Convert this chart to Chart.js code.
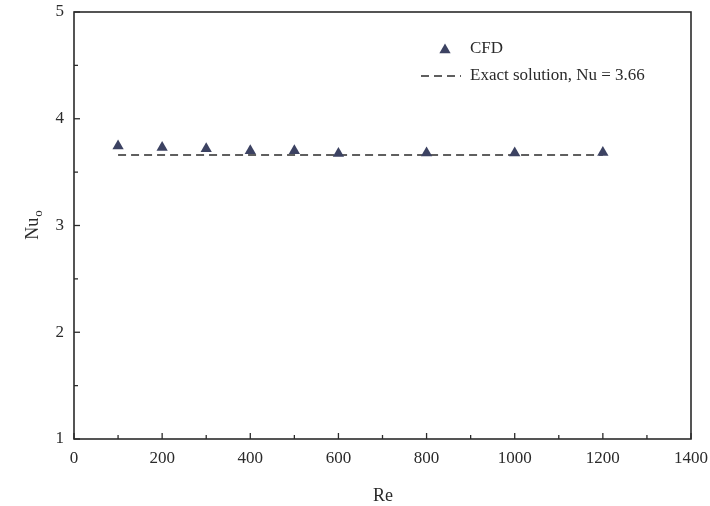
<!DOCTYPE html>
<html>
<head>
<meta charset="utf-8">
<script src="https://cdn.jsdelivr.net/npm/chart.js@4/dist/chart.umd.min.js"></script>
<style>
  html, body { margin: 0; padding: 0; background: #ffffff; }
  #wrap { width: 710px; height: 506px; position: relative; }
</style>
</head>
<body>
<div id="wrap"><canvas id="c" width="710" height="506"></canvas></div>
<script>
// ---- data ----
const reynolds = [100, 200, 300, 400, 500, 600, 800, 1000, 1200];
const nuCFD = [3.745, 3.73, 3.72, 3.70, 3.70, 3.675, 3.68, 3.68, 3.685];
const exactRe = [100, 1200];
const exactNu = [3.66, 3.66];
const xTicks = [0, 200, 400, 600, 800, 1000, 1200, 1400];
const yTicks = [1, 2, 3, 4, 5];
const legendLabels = ["CFD", "Exact solution, Nu = 3.66"];
const xTitle = "Re";
const yTitleMain = "Nu";
const yTitleSub = "o";

const ink = "#2b2b2b";
const markColor = "#3c4262";
const serif = "'Liberation Serif', 'Times New Roman', serif";

const framePlugin = {
  id: 'frame',
  afterDraw(chart) {
    const ctx = chart.ctx;
    const a = chart.chartArea;
    const xs = chart.scales.x, ys = chart.scales.y;
    ctx.save();
    ctx.strokeStyle = ink;
    ctx.lineWidth = 1.6;
    ctx.strokeRect(a.left, a.top, a.right - a.left, a.bottom - a.top);
    ctx.lineWidth = 1.3;
    for (let v = 0; v <= 1400; v += 100) {
      const px = xs.getPixelForValue(v);
      const len = (v % 200 === 0) ? 6 : 4;
      ctx.beginPath(); ctx.moveTo(px, a.bottom); ctx.lineTo(px, a.bottom - len); ctx.stroke();
    }
    for (let v = 1; v <= 5.001; v += 0.5) {
      const py = ys.getPixelForValue(v);
      const len = (Math.abs(v - Math.round(v)) < 1e-6) ? 6 : 4;
      ctx.beginPath(); ctx.moveTo(a.left, py); ctx.lineTo(a.left + len, py); ctx.stroke();
    }
    // axis titles
    ctx.fillStyle = ink;
    ctx.font = "18px " + serif;
    ctx.textAlign = "center"; ctx.textBaseline = "middle";
    ctx.fillText(xTitle, 383, 496);
    ctx.save();
    ctx.translate(33, (a.top + a.bottom) / 2);
    ctx.rotate(-Math.PI / 2);
    ctx.font = "18px " + serif;
    ctx.textAlign = "left";
    const w1 = ctx.measureText(yTitleMain).width;
    ctx.font = "13px " + serif;
    const w2 = ctx.measureText(yTitleSub).width;
    const start = -(w1 + w2) / 2;
    ctx.font = "18px " + serif;
    ctx.fillText(yTitleMain, start, 0);
    ctx.font = "13px " + serif;
    ctx.fillText(yTitleSub, start + w1 + 1, 6);
    ctx.restore();
    // legend
    ctx.fillStyle = markColor;
    const tx = 445, ty = 50, r = 6.5;
    ctx.beginPath();
    ctx.moveTo(tx, ty - r);
    ctx.lineTo(tx + r * Math.sin(2 * Math.PI / 3), ty - r * Math.cos(2 * Math.PI / 3));
    ctx.lineTo(tx + r * Math.sin(4 * Math.PI / 3), ty - r * Math.cos(4 * Math.PI / 3));
    ctx.closePath(); ctx.fill();
    ctx.fillStyle = ink;
    ctx.font = "17px " + serif;
    ctx.textAlign = "left"; ctx.textBaseline = "middle";
    ctx.fillText(legendLabels[0], 470, 49);
    ctx.strokeStyle = ink; ctx.lineWidth = 1.5;
    ctx.setLineDash([8, 5]);
    ctx.beginPath(); ctx.moveTo(421, 76); ctx.lineTo(461, 76); ctx.stroke();
    ctx.setLineDash([]);
    ctx.fillText(legendLabels[1], 470, 76);
    ctx.restore();
  }
};

new Chart(document.getElementById('c'), {
  type: 'scatter',
  data: {
    datasets: [
      {
        label: legendLabels[1],
        data: exactRe.map((x, i) => ({ x, y: exactNu[i] })),
        showLine: true,
        borderColor: ink,
        borderWidth: 1.5,
        borderDash: [8, 5],
        pointRadius: 0,
        fill: false,
        order: 2
      },
      {
        label: legendLabels[0],
        data: reynolds.map((x, i) => ({ x, y: nuCFD[i] })),
        pointStyle: 'triangle',
        pointRadius: 6.5,
        backgroundColor: markColor,
        borderColor: markColor,
        borderWidth: 0,
        order: 1
      }
    ]
  },
  options: {
    responsive: false,
    animation: false,
    devicePixelRatio: 1,
    layout: { padding: { top: 12, right: 19, left: 0, bottom: 0 } },
    plugins: { legend: { display: false }, tooltip: { enabled: false } },
    scales: {
      x: {
        type: 'linear', min: 0, max: 1400,
        afterBuildTicks: s => { s.ticks = xTicks.map(v => ({ value: v })); },
        afterFit: s => { s.height = 67; s.paddingLeft = 0; s.paddingRight = 0; },
        grid: { display: false, drawTicks: false },
        border: { display: false },
        ticks: { color: ink, font: { family: serif, size: 17 }, padding: 9, maxRotation: 0,
                 callback: v => String(v) }
      },
      y: {
        type: 'linear', min: 1, max: 5,
        afterBuildTicks: s => { s.ticks = yTicks.map(v => ({ value: v })); },
        afterFit: s => { s.width = 74; s.paddingTop = 0; s.paddingBottom = 0; },
        grid: { display: false, drawTicks: false },
        border: { display: false },
        ticks: { color: ink, font: { family: serif, size: 17 }, padding: 10,
                 callback: v => String(v) }
      }
    }
  },
  plugins: [framePlugin]
});
</script>
</body>
</html>
